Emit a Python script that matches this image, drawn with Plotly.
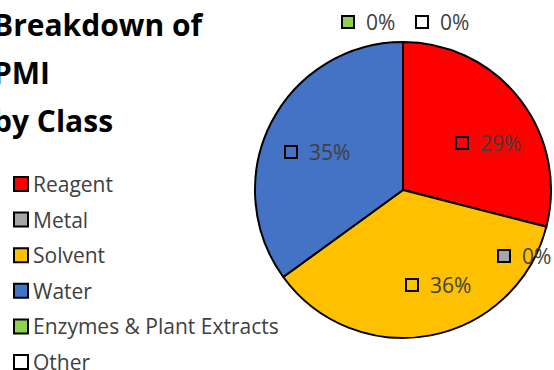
import plotly.graph_objects as go

# PMI breakdown by class (percent of total)
categories = ["Reagent", "Metal", "Solvent", "Water", "Enzymes & Plant Extracts", "Other"]
values = [29, 0, 36, 35, 0, 0]
colors = ["#FF0000", "#A5A5A5", "#FFC000", "#4472C4", "#92D050", "#FFFFFF"]
title_lines = ["Breakdown of", "PMI", "by Class"]

W, H = 554, 370
FONT = "Open Sans"
TEXT_COLOR = "#404040"


def px(x):
    return x / W


def py(y):
    return 1 - y / H


# pie placement in pixels (center, radius)
cx, cy, R = 403, 190, 148

fig = go.Figure(
    go.Pie(
        labels=categories,
        values=values,
        marker=dict(colors=colors, line=dict(color="black", width=2)),
        sort=False,
        direction="clockwise",
        rotation=0,
        textinfo="none",
        hoverinfo="label+percent",
        showlegend=False,
        domain=dict(x=[px(cx - R), px(cx + R)], y=[py(cy + R), py(cy - R)]),
    )
)

shapes = []
annotations = []

# title, three left-aligned bold lines
for i, line in enumerate(title_lines):
    annotations.append(dict(
        text=line, xref="paper", yref="paper", x=px(-9), y=py(25 + 47.5 * i),
        xanchor="left", yanchor="middle", showarrow=False,
        font=dict(family=FONT, size=30, color="black", weight="bold"),
    ))

# legend: colored key boxes with category names
leg_y0, leg_dy = 184, 35.6
for i, (name, col) in enumerate(zip(categories, colors)):
    yc = leg_y0 + leg_dy * i
    shapes.append(dict(type="rect", xref="paper", yref="paper",
                       x0=px(14), x1=px(28), y0=py(yc + 7), y1=py(yc - 7),
                       fillcolor=col, line=dict(color="black", width=2)))
    annotations.append(dict(
        text=name, xref="paper", yref="paper", x=px(31), y=py(yc),
        xanchor="left", yanchor="middle", showarrow=False,
        font=dict(family=FONT, size=21, color=TEXT_COLOR),
    ))

# data-label anchor points (key box centers, pixels)
label_pos = {
    "Reagent": (462, 143),
    "Metal": (504, 256),
    "Solvent": (412, 285),
    "Water": (291, 152),
    "Enzymes & Plant Extracts": (348, 22),
    "Other": (422, 22),
}

total = sum(values)
for name, v, col in zip(categories, values, colors):
    lx, ly = label_pos[name]
    shapes.append(dict(type="rect", xref="paper", yref="paper",
                       x0=px(lx - 6), x1=px(lx + 6), y0=py(ly + 6), y1=py(ly - 6),
                       fillcolor=col, line=dict(color="black", width=2)))
    annotations.append(dict(
        text=f"{round(100 * v / total)}%", xref="paper", yref="paper",
        x=px(lx + 16), y=py(ly), xanchor="left", yanchor="middle", showarrow=False,
        font=dict(family=FONT, size=21, color=TEXT_COLOR),
    ))

fig.update_layout(
    width=W, height=H,
    margin=dict(l=0, r=0, t=0, b=0),
    paper_bgcolor="white", plot_bgcolor="white",
    shapes=shapes, annotations=annotations,
)

fig.write_html("out.html")
